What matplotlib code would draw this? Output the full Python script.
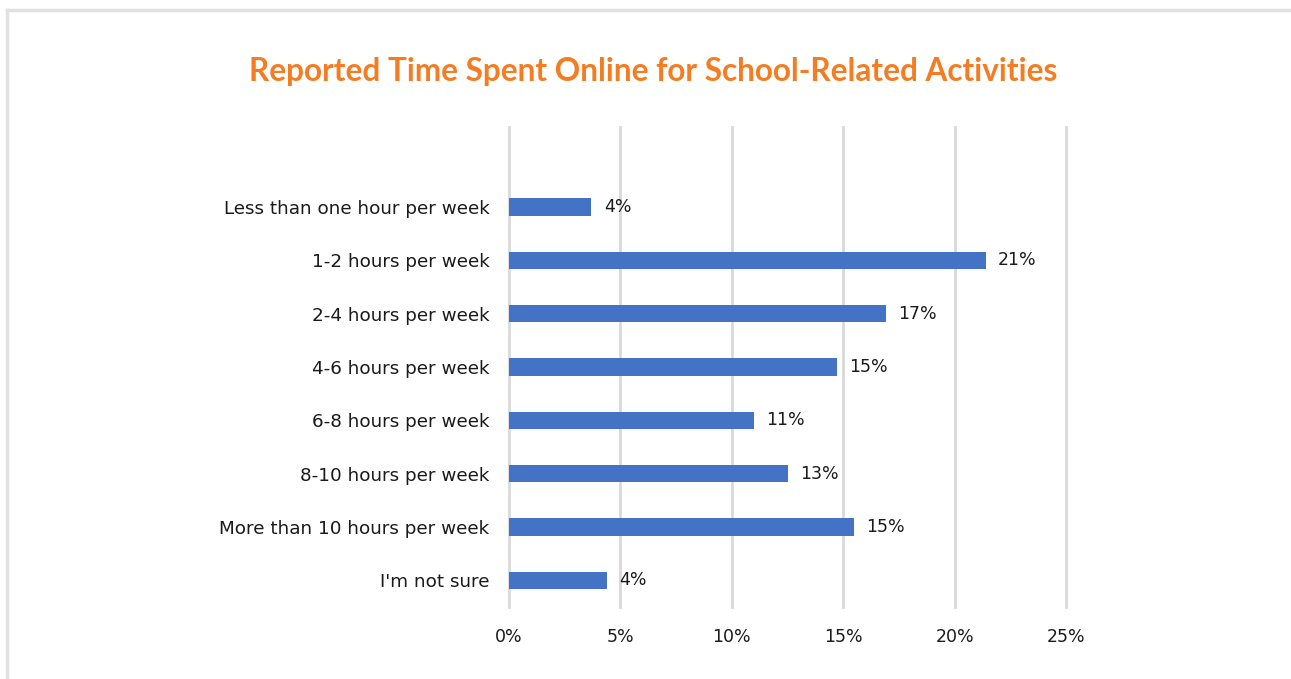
import matplotlib.pyplot as plt
from matplotlib.lines import Line2D

categories = [
    "Less than one hour per week",
    "1-2 hours per week",
    "2-4 hours per week",
    "4-6 hours per week",
    "6-8 hours per week",
    "8-10 hours per week",
    "More than 10 hours per week",
    "I'm not sure",
]
values = [3.7, 21.4, 16.9, 14.7, 11.0, 12.5, 15.5, 4.4]
value_labels = ["4%", "21%", "17%", "15%", "11%", "13%", "15%", "4%"]
x_ticks = [0, 5, 10, 15, 20, 25]
x_tick_labels = ["0%", "5%", "10%", "15%", "20%", "25%"]

W, H = 1291, 679
fig = plt.figure(figsize=(W / 100, H / 100), dpi=100)
plt.rcParams['font.family'] = ['DejaVu Sans']

# light frame along top and left
fig.add_artist(Line2D([7 / W, 1], [1 - 10 / H, 1 - 10 / H], color='#E1E1E1', lw=2.5))
fig.add_artist(Line2D([7 / W, 7 / W], [0, 1 - 10 / H], color='#E1E1E1', lw=2.5))

ax = fig.add_axes([509 / W, 1 - 607 / H, (1066 - 509) / W, (607 - 127) / H])

ypos = list(range(len(categories)))
ax.barh(ypos, values, height=0.33, color='#4472C4', zorder=3)
for y, v, lab in zip(ypos, values, value_labels):
    ax.text(v + 0.55, y, lab, va='center', ha='left', fontsize=12.5, color='#1a1a1a')

ax.set_xlim(0, 25)
ax.set_ylim(7.5, -1.5)
ax.set_xticks(x_ticks)
ax.set_xticklabels(x_tick_labels, fontsize=12.5, color='#1a1a1a')
ax.set_yticks(ypos)
ax.set_yticklabels(categories, fontsize=13.2, color='#1a1a1a')
ax.tick_params(length=0)
ax.tick_params(axis='x', pad=15)
ax.tick_params(axis='y', pad=14)
ax.grid(axis='x', color='#D9D9D9', lw=2, zorder=0)
for gl in ax.get_xgridlines():
    gl.set_clip_on(False)
for s in ax.spines.values():
    s.set_visible(False)

fig.text(653 / W, 1 - 71 / H, "Reported Time Spent Online for School-Related Activities",
         ha='center', va='center', fontsize=22.7, fontweight='bold', color='#F47C22',
         family=['Lato', 'DejaVu Sans'])

fig.savefig('out.png', dpi=100)
